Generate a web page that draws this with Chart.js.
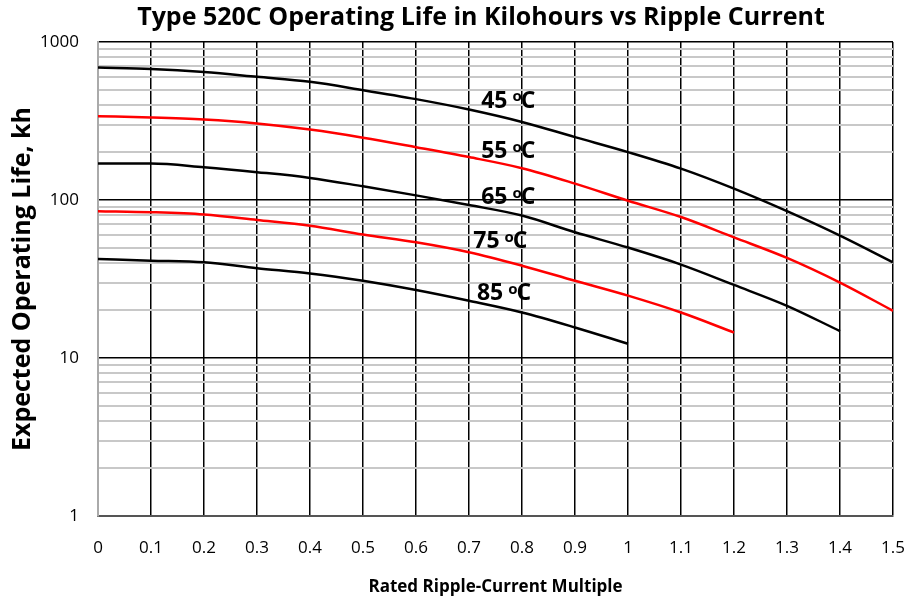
<!DOCTYPE html>
<html>
<head>
<meta charset="utf-8">
<script src="https://cdn.jsdelivr.net/npm/chart.js@4.4.1/dist/chart.umd.min.js"></script>
<style>
  html, body { margin: 0; padding: 0; background: #fff; }
  #wrap { width: 907px; height: 597px; }
</style>
</head>
<body>
<div id="wrap"><canvas id="chart" width="907" height="597"></canvas></div>
<script>
// ripple current multiple (x)
let ripple = [0, 0.1, 0.2, 0.3, 0.4, 0.5, 0.6, 0.7, 0.8, 0.9, 1.0, 1.1, 1.2, 1.3, 1.4, 1.5];

// expected life in kilohours, per temperature
let life45 = [690, 675, 645, 602, 560, 496, 435, 374, 312, 250, 201, 158, 118, 85, 59.5, 40.3];
let life55 = [339, 333, 323, 305, 279, 248, 216, 187, 159, 127, 99, 78, 58, 43, 30, 19.9];
let life65 = [170, 170, 161, 150, 138, 122, 107, 93, 79.7, 62.5, 50, 39, 29, 21.4, 14.8];
let life75 = [85, 83.7, 80.9, 74.8, 68.8, 60.4, 54, 46.7, 38.4, 30.8, 24.8, 19.4, 14.5];
let life85 = [42.3, 41.3, 40.3, 37, 34.3, 30.8, 26.9, 23, 19.4, 15.6, 12.3];

let tempNames = ["45", "55", "65", "75", "85"];
let yTickValues = [1, 10, 100, 1000];
let chartTitle = 'Type 520C Operating Life in Kilohours vs Ripple Current';

function toPoints(vals) {
    return vals.map((v, i) => ({x: ripple[i], y: v}));
}

let series = [life45, life55, life65, life75, life85];
let seriesColors = ["#000000", "#ff0000", "#000000", "#ff0000", "#000000"];

// where the temperature labels sit, in data units
let labelSpots = [
    {x: 0.723, y: 422},
    {x: 0.723, y: 203},
    {x: 0.723, y: 104},
    {x: 0.708, y: 54.6},
    {x: 0.715, y: 25.5},
];

let tempLabels = {
    id: 'tempLabels',
    afterDatasetsDraw: (chart) => {
        const {ctx, scales} = chart;
        ctx.save();
        ctx.fillStyle = '#000';
        ctx.textBaseline = 'middle';
        for (let i = 0; i < tempNames.length; i++) {
            let px = scales.x.getPixelForValue(labelSpots[i].x);
            let py = scales.y.getPixelForValue(labelSpots[i].y);
            ctx.font = 'bold 23px "Open Sans"';
            ctx.fillText(tempNames[i], px, py);
            px += ctx.measureText(tempNames[i]).width + 5;
            ctx.font = 'bold 15px "Open Sans"';
            ctx.fillText('o', px, py - 4);
            px += ctx.measureText('o').width - 1;
            ctx.font = 'bold 23px "Open Sans"';
            ctx.fillText('C', px, py);
        }
        ctx.restore();
    }
};

// title sits a bit left of the plot centre, like the original
let topTitle = {
    id: 'topTitle',
    afterDraw: (chart) => {
        const {ctx} = chart;
        ctx.save();
        ctx.fillStyle = '#000';
        ctx.font = 'bold 25px "Open Sans"';
        ctx.textAlign = 'center';
        ctx.textBaseline = 'middle';
        ctx.fillText(chartTitle, 481, 18);
        ctx.restore();
    }
};

let datasets = series.map((vals, i) => ({
    label: tempNames[i] + ' °C',
    data: toPoints(vals),
    borderColor: seriesColors[i],
    borderWidth: 2.5,
    pointRadius: 0,
    tension: 0.35,
    cubicInterpolationMode: 'monotone',
    fill: false,
}));

new Chart(document.getElementById('chart'), {
    type: 'line',
    data: {datasets: datasets},
    options: {
        responsive: false,
        animation: false,
        layout: {padding: {left: 0, right: 0, top: 42, bottom: 0}},
        plugins: {
            legend: {display: false},
            tooltip: {enabled: false},
            title: {display: false},
        },
        scales: {
            x: {
                type: 'linear',
                min: 0,
                max: 1.5,
                ticks: {
                    stepSize: 0.1,
                    color: '#000',
                    font: {family: 'Open Sans', size: 17},
                    padding: 22,
                    callback: (v) => String(Number(v.toFixed(1))),
                },
                grid: {color: '#000', lineWidth: 1.5, drawTicks: false},
                border: {color: '#555', width: 2},
                title: {
                    display: true,
                    text: 'Rated Ripple-Current Multiple',
                    color: '#000',
                    font: {family: 'Open Sans', size: 17, weight: 'bold'},
                    padding: {top: 14, bottom: 0},
                },
                afterFit: (s) => {
                    s.height = 81;
                    s.paddingLeft = 0;
                    s.paddingRight = 14;
                },
            },
            y: {
                type: 'logarithmic',
                min: 1,
                max: 1000,
                afterBuildTicks: (s) => {
                    let t = [];
                    for (let d = 1; d < 1000; d *= 10) {
                        for (let m = 1; m < 10; m++) t.push({value: m * d});
                    }
                    t.push({value: 1000});
                    s.ticks = t;
                },
                ticks: {
                    color: '#000',
                    font: {family: 'Open Sans', size: 17},
                    padding: 19,
                    autoSkip: false,
                    callback: (v) => yTickValues.includes(v) ? String(v) : '',
                },
                grid: {
                    drawTicks: false,
                    color: (c) => yTickValues.includes(c.tick.value) ? '#000' : '#c8c8c8',
                    lineWidth: (c) => yTickValues.includes(c.tick.value) ? 1.5 : 2,
                },
                border: {color: '#aaa', width: 2},
                title: {
                    display: true,
                    text: 'Expected Operating Life, kh',
                    color: '#000',
                    font: {family: 'Open Sans', size: 25, weight: 'bold'},
                    padding: {top: 8, bottom: 4},
                },
                afterFit: (s) => {
                    s.width = 98;
                    s.paddingTop = 0;
                    s.paddingBottom = 0;
                },
            },
        },
    },
    plugins: [tempLabels, topTitle],
});
</script>
</body>
</html>
